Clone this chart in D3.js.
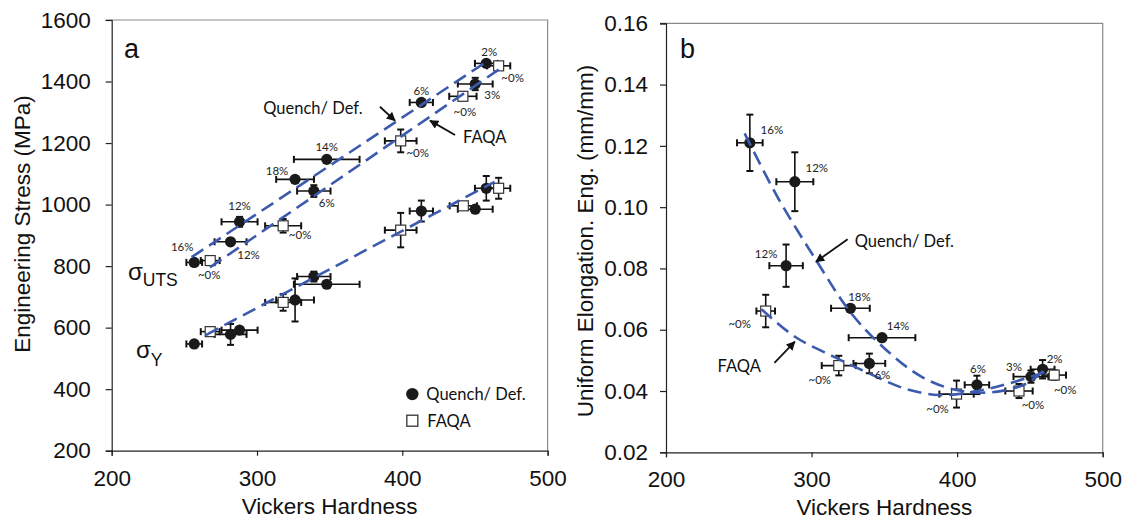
<!DOCTYPE html>
<html><head><meta charset="utf-8">
<script src="https://cdn.jsdelivr.net/npm/d3@7"></script>
<style>
html,body{margin:0;padding:0;background:#fff;}
svg{display:block;}
.tick text{font-family:"Liberation Sans",Arial,sans-serif;}
</style></head>
<body>
<svg id="chart" width="1127" height="520"></svg>
<script>
// ---------- Panel a data (Vickers Hardness vs Engineering Stress, MPa) ----------
const xTicks = [200, 300, 400, 500];
const stressTicks = [200, 400, 600, 800, 1000, 1200, 1400, 1600];
const elongTicks = [0.02, 0.04, 0.06, 0.08, 0.10, 0.12, 0.14, 0.16];

// UTS, Quench/Def.
const utsQHV   = [256.8, 281.8, 288.0, 326.2, 339.1, 348.0, 413.1, 450.2, 457.8];
const utsQVal  = [812, 879, 944, 1082, 1044, 1147, 1332, 1392, 1459];
const utsQHVe  = [5.4, 11, 12.4, 13, 11.5, 22.6, 8, 12, 7.8];
const utsQVale = [0, 0, 16, 0, 19, 0, 0, 20, 0];
const utsQLbl  = ["16%", "12%", "12%", "18%", "6%", "14%", "6%", "3%", "2%"];
// UTS, FAQA
const utsFHV   = [267.8, 318.0, 398.9, 441.7, 466.3];
const utsFVal  = [818, 931, 1207, 1352, 1451];
const utsFHVe  = [6.5, 12.4, 10.9, 9.4, 8];
const utsFVale = [0, 22, 37, 10, 10];
const utsFLbl  = ["~0%", "~0%", "~0%", "~0%", "~0%"];
// Yield, Quench/Def.
const ysQHV   = [256.8, 281.8, 288.0, 326.2, 339.1, 348.0, 413.1, 450.2, 457.8];
const ysQVal  = [547, 578, 592, 690, 766, 741, 979, 985, 1053];
const ysQHVe  = [5.4, 11, 12.4, 13, 11.5, 22.6, 8, 12, 7.8];
const ysQVale = [0, 34, 10, 70, 16, 0, 34, 0, 40];
// Yield, FAQA
const ysFHV   = [267.8, 318.0, 398.9, 442.0, 466.3];
const ysFVal  = [587, 682, 917, 996, 1053];
const ysFHVe  = [6.5, 12.4, 10.9, 9.4, 8];
const ysFVale = [0, 27, 56, 10, 34];
// Linear trend lines (end points)
const utsQFitHV = [255, 457.8],  utsQFitVal = [829, 1464];
const utsFFitHV = [267.6, 469.2], utsFFitVal = [796, 1448];
const ysFitHV   = [264.8, 463.5], ysFitVal   = [576, 1074];

// ---------- Panel b data (Vickers Hardness vs Uniform Elongation) ----------
const elQHV   = [257.6, 288.5, 282.5, 326.7, 348.4, 339.7, 413.6, 450.7, 458.7];
const elQVal  = [0.1210, 0.1083, 0.0809, 0.0670, 0.0574, 0.0490, 0.0420, 0.0447, 0.0471];
const elQHVe  = [8.8, 12.7, 11.5, 13.3, 22.9, 10.9, 8.4, 12, 8.2];
const elQVale = [0.0092, 0.0096, 0.0069, 0, 0, 0.0032, 0.0030, 0.0020, 0.0030];
const elQLbl  = ["16%", "12%", "12%", "18%", "14%", "6%", "6%", "3%", "2%"];
const elFHV   = [268.5, 318.7, 399.6, 442.5, 466.7];
const elFVal  = [0.0661, 0.0483, 0.0390, 0.0400, 0.0452];
const elFHVe  = [6.4, 11.7, 11.8, 9.4, 8.1];
const elFVale = [0.0053, 0.0032, 0.0044, 0.0023, 0.0015];
const elFLbl  = ["~0%", "~0%", "~0%", "~0%", "~0%"];
// Trend curves
const qCurveHV  = [254, 276.5, 303, 327.2, 351.3, 375.4, 399.6, 423.7, 447.9, 461.9];
const qCurveVal = [0.1241, 0.1034, 0.0828, 0.0654, 0.0534, 0.0447, 0.0403, 0.0396, 0.0425, 0.0479];
const fCurveHV  = [265.6, 288.6, 315.1, 339.3, 363.4, 387.5, 411.6, 435.8, 464.8];
const fCurveVal = [0.0667, 0.0577, 0.0512, 0.0458, 0.0409, 0.0387, 0.0398, 0.0425, 0.0469];

// ---------- label offsets (px) ----------
const utsQOff = [[-12,-16],[18,13],[0,-16],[-18,-9],[13,11],[0,-13],[0,-12],[17,11],[3,-12]];
const utsFOff = [[-1,14],[17,9],[17,12],[2,15],[14,12]];
const elQOff  = [[22,-13],[22,-14],[-20,-12],[9,-12],[16,-12],[13,11],[1,-16],[-17,-10],[12,-11]];
const elFOff  = [[-26,12],[-19,14],[-19,14],[14,13],[11,14]];

const BLUE = "#3c5aae";
const svg = d3.select("#chart");
const TICKFONT = '"Liberation Sans", Arial, sans-serif';
const NOTEFONT = 'Lato, "Open Sans", sans-serif';

svg.append("defs").append("marker")
  .attr("id","arr").attr("viewBox","0 0 10 10").attr("refX",9).attr("refY",5)
  .attr("markerWidth",10).attr("markerHeight",9).attr("orient","auto-start-reverse")
  .attr("markerUnits","userSpaceOnUse")
  .append("path").attr("d","M0,0 L10,5 L0,10 z").attr("fill","#111");

function panel(opts){
  const {x, y, yTicks, fmt, labelRight} = opts;
  const g = svg.append("g");
  const [x0,x1] = x.range(), [y0,y1] = y.range();
  g.append("path").attr("d",`M${x0-6},${y1}H${x1}V${y0}`).attr("fill","none").attr("stroke","#8a8a8a").attr("stroke-width",1.2);
  const ya = g.append("g").attr("transform",`translate(${x0},0)`)
    .call(d3.axisLeft(y).tickValues(yTicks).tickSize(6).tickPadding(labelRight).tickFormat(fmt));
  ya.select(".domain").attr("stroke","#222").attr("stroke-width",1.2);
  ya.selectAll(".tick line").attr("stroke","#222").attr("stroke-width",1.2);
  ya.selectAll(".tick text").attr("font-size",22.5).attr("fill","#111").attr("font-family",TICKFONT);
  const xa = g.append("g").attr("transform",`translate(0,${y0})`)
    .call(d3.axisBottom(x).tickValues(xTicks).tickSize(5).tickPadding(14).tickFormat(d3.format("d")));
  xa.select(".domain").attr("stroke","#222").attr("stroke-width",1.2);
  xa.selectAll(".tick line").attr("stroke","#222").attr("stroke-width",1.2);
  xa.selectAll(".tick text").attr("font-size",22.5).attr("fill","#111").attr("font-family",TICKFONT);
  return g;
}

function errorBars(g, x, y, hv, val, hve, vale){
  const cap = 3.5;
  hv.forEach((h,i)=>{
    const cx = x(h), cy = y(val[i]);
    const xl = x(h - hve[i]), xr = x(h + hve[i]);
    g.append("line").attr("x1",xl).attr("x2",xr).attr("y1",cy).attr("y2",cy).attr("stroke","#111").attr("stroke-width",1.6);
    [xl,xr].forEach(xx=>g.append("line").attr("x1",xx).attr("x2",xx).attr("y1",cy-cap).attr("y2",cy+cap).attr("stroke","#111").attr("stroke-width",2));
    if (vale[i] > 0){
      const yt = y(val[i]+vale[i]), yb = y(val[i]-vale[i]);
      g.append("line").attr("x1",cx).attr("x2",cx).attr("y1",yt).attr("y2",yb).attr("stroke","#111").attr("stroke-width",1.6);
      [yt,yb].forEach(yy=>g.append("line").attr("x1",cx-cap).attr("x2",cx+cap).attr("y1",yy).attr("y2",yy).attr("stroke","#111").attr("stroke-width",2));
    }
  });
}
function circles(g,x,y,hv,val){
  hv.forEach((h,i)=>g.append("circle").attr("cx",x(h)).attr("cy",y(val[i])).attr("r",5.6).attr("fill","#1a1a1a"));
}
function squares(g,x,y,hv,val){
  hv.forEach((h,i)=>g.append("rect").attr("x",x(h)-5).attr("y",y(val[i])-5).attr("width",10).attr("height",10)
    .attr("fill","#fff").attr("stroke","#333").attr("stroke-width",1.2));
}
function dashed(g,x,y,hv,val,curve){
  const line = d3.line().x((d,i)=>x(hv[i])).y((d,i)=>y(val[i])).curve(curve||d3.curveLinear);
  g.append("path").attr("d",line(hv)).attr("fill","none").attr("stroke",BLUE).attr("stroke-width",2.6).attr("stroke-dasharray","14,7");
}
function pctLabels(g,x,y,hv,val,lbl,off){
  hv.forEach((h,i)=>g.append("text").attr("x",x(h)+off[i][0]).attr("y",y(val[i])+off[i][1])
    .attr("text-anchor","middle").attr("dominant-baseline","central")
    .attr("font-family",NOTEFONT).attr("font-size",11.5).attr("fill","#222").text(lbl[i]));
}
function note(g,px,py,txt,size,anchor){
  return g.append("text").attr("x",px).attr("y",py).attr("dominant-baseline","central")
    .attr("text-anchor",anchor||"start").attr("font-family",NOTEFONT).attr("font-size",size).attr("fill","#111").text(txt);
}
function arrow(g,x1,y1,x2,y2){
  g.append("line").attr("x1",x1).attr("y1",y1).attr("x2",x2).attr("y2",y2).attr("stroke","#111").attr("stroke-width",1.8).attr("marker-end","url(#arr)");
}

// ================= Panel a =================
const xA = d3.scaleLinear().domain([200,500]).range([111.7,547.6]);
const yA = d3.scaleLinear().domain([200,1600]).range([450.7,20]);
const gA = panel({x:xA, y:yA, yTicks:stressTicks, fmt:d3.format("d"), labelRight:15});

errorBars(gA,xA,yA,utsQHV,utsQVal,utsQHVe,utsQVale);
errorBars(gA,xA,yA,utsFHV,utsFVal,utsFHVe,utsFVale);
errorBars(gA,xA,yA,ysQHV,ysQVal,ysQHVe,ysQVale);
errorBars(gA,xA,yA,ysFHV,ysFVal,ysFHVe,ysFVale);
circles(gA,xA,yA,utsQHV,utsQVal);
circles(gA,xA,yA,ysQHV,ysQVal);
squares(gA,xA,yA,utsFHV,utsFVal);
squares(gA,xA,yA,ysFHV,ysFVal);
dashed(gA,xA,yA,utsQFitHV,utsQFitVal);
dashed(gA,xA,yA,utsFFitHV,utsFFitVal);
dashed(gA,xA,yA,ysFitHV,ysFitVal);
pctLabels(gA,xA,yA,utsQHV,utsQVal,utsQLbl,utsQOff);
pctLabels(gA,xA,yA,utsFHV,utsFVal,utsFLbl,utsFOff);

gA.append("text").attr("x",xA(208.5)).attr("y",yA(1475)).attr("font-family",'"Liberation Sans",Arial,sans-serif').attr("font-size",27).attr("fill","#111").text("a");
note(gA,xA(304.3),yA(1314),"Quench/ Def.",16.5);
arrow(gA,xA(384.6),yA(1318),xA(395.0),yA(1273));
note(gA,xA(441.8),yA(1221),"FAQA",16.5);
arrow(gA,xA(436.3),yA(1226),xA(419.1),yA(1273));
const sU = gA.append("text").attr("x",xA(211.2)).attr("y",yA(754)).attr("font-family",'"Liberation Sans",Arial,sans-serif').attr("fill","#111");
sU.append("tspan").attr("font-size",24).text("σ");
sU.append("tspan").attr("font-size",17.5).attr("dy",6).text("UTS");
const sY = gA.append("text").attr("x",xA(216.7)).attr("y",yA(501)).attr("font-family",'"Liberation Sans",Arial,sans-serif').attr("fill","#111");
sY.append("tspan").attr("font-size",24).text("σ");
sY.append("tspan").attr("font-size",17.5).attr("dy",8).text("Y");
// legend
gA.append("circle").attr("cx",xA(406.9)).attr("cy",yA(384)).attr("r",6.2).attr("fill","#1a1a1a");
note(gA,xA(406.9)+14,yA(384),"Quench/ Def.",16.5);
gA.append("rect").attr("x",xA(406.9)-5.5).attr("y",yA(297.5)-5.5).attr("width",11).attr("height",11).attr("fill","#fff").attr("stroke","#333").attr("stroke-width",1.3);
note(gA,xA(406.9)+15,yA(297.5),"FAQA",16.5);
gA.append("text").attr("transform",`translate(22,224) rotate(-90)`).attr("text-anchor","middle").attr("dominant-baseline","central")
  .attr("font-family",TICKFONT).attr("font-size",22.5).attr("fill","#111").text("Engineering Stress (MPa)");
gA.append("text").attr("x",(xA.range()[0]+xA.range()[1])/2).attr("y",506).attr("text-anchor","middle").attr("dominant-baseline","central")
  .attr("font-family",TICKFONT).attr("font-size",22.5).attr("fill","#111").text("Vickers Hardness");

// ================= Panel b =================
const xB = d3.scaleLinear().domain([200,500]).range([666,1102.7]);
const yB = d3.scaleLinear().domain([0.02,0.16]).range([452.3,23.3]);
const gB = panel({x:xB, y:yB, yTicks:elongTicks, fmt:d3.format(".2f"), labelRight:12});

errorBars(gB,xB,yB,elQHV,elQVal,elQHVe,elQVale);
errorBars(gB,xB,yB,elFHV,elFVal,elFHVe,elFVale);
circles(gB,xB,yB,elQHV,elQVal);
squares(gB,xB,yB,elFHV,elFVal);
dashed(gB,xB,yB,qCurveHV,qCurveVal,d3.curveCatmullRom);
dashed(gB,xB,yB,fCurveHV,fCurveVal,d3.curveCatmullRom);
pctLabels(gB,xB,yB,elQHV,elQVal,elQLbl,elQOff);
pctLabels(gB,xB,yB,elFHV,elFVal,elFLbl,elFOff);

gB.append("text").attr("x",xB(209.6)).attr("y",yB(0.1486)).attr("font-family",'"Liberation Sans",Arial,sans-serif').attr("font-size",27).attr("fill","#111").text("b");
note(gB,xB(329.6),yB(0.0891),"Quench/ Def.",16.5);
arrow(gB,xB(324.8),yB(0.0895),xB(303.0),yB(0.0822));
note(gB,xB(235.4),yB(0.0483),"FAQA",16.5);
arrow(gB,xB(274.5),yB(0.0492),xB(288.5),yB(0.0561));
gB.append("text").attr("transform",`translate(585,241) rotate(-90)`).attr("text-anchor","middle").attr("dominant-baseline","central")
  .attr("font-family",TICKFONT).attr("font-size",22.5).attr("fill","#111").text("Uniform Elongation. Eng. (mm/mm)");
gB.append("text").attr("x",(xB.range()[0]+xB.range()[1])/2).attr("y",507).attr("text-anchor","middle").attr("dominant-baseline","central")
  .attr("font-family",TICKFONT).attr("font-size",22.5).attr("fill","#111").text("Vickers Hardness");
</script>
</body></html>
